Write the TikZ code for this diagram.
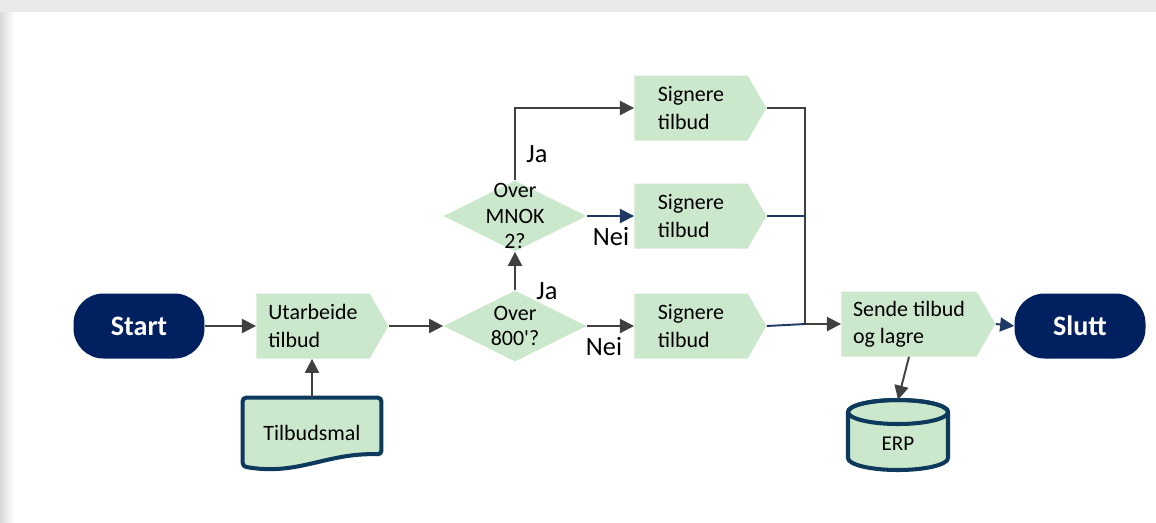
\documentclass[tikz,border=0pt]{standalone}
\usepackage{fontspec}
\setmainfont{Carlito}
\usetikzlibrary{shapes.geometric, shapes.symbols}
\usetikzlibrary{arrows.meta, calc}

\definecolor{navy}{HTML}{002060}
\definecolor{stepgreen}{HTML}{CCE8CC}
\definecolor{edgeblue}{HTML}{0D3A5C}
\definecolor{linegray}{HTML}{404040}
\definecolor{lineblue}{HTML}{1F3864}

\begin{document}
\begin{tikzpicture} [
       x=0.02cm, y=-0.02cm,
       terminal/.style={rectangle, rounded corners=0.6cm, fill=navy, text=white,
               font=\bfseries\fontsize{16}{18}\selectfont,
               minimum width=2.62cm, minimum height=1.3cm},
       task/.style={signal, signal to=east, signal from=nowhere,
               signal pointer angle=120, fill=stepgreen, align=left,
               minimum width=2.64cm, minimum height=1.3cm,
               font=\fontsize{12.5}{15.5}\selectfont},
       decision/.style={diamond, fill=stepgreen, aspect=2, inner sep=0pt,
               minimum width=2.86cm, minimum height=1.42cm},
       texte/.style={align=center, font=\fontsize{12.5}{14.5}\selectfont},
       answer/.style={font=\fontsize{15}{17}\selectfont},
       line/.style={draw, linegray, line width=1.1pt,
               -{Triangle[length=8pt,width=8pt]}},
       ]
       % frame
       \useasboundingbox (0,0) rectangle (1156,522);
       \fill[white] (0,0) rectangle (1156,522);
       \fill[gray!17] (0,0) rectangle (1156,12);
       \shade[left color=gray!30, right color=white] (0,12) rectangle (14,522);

       \node (start) [terminal] at (139,326) {Start};
       \node (ut) [task] at (313,326) {Utarbeide\\tilbud};
       \node (tmpl) [minimum width=2.76cm, minimum height=1.4cm,
               font=\fontsize{12.5}{15}\selectfont] at (312,433) {};
       \draw[edgeblue, fill=stepgreen, line width=2.3pt, rounded corners=2pt]
               (tmpl.north west) -- (tmpl.north east) -- ($(tmpl.south east)+(0,-14)$)
               .. controls ($(tmpl.south east)+(-55,-16)$) and ($(tmpl.south west)+(55,8)$)
               .. ($(tmpl.south west)+(0,-2)$) -- cycle;
       \node (tmpltxt) [font=\fontsize{12.5}{15}\selectfont] at (tmpl) {Tilbudsmal};

       \node (d1) [decision] at (515,326) {};
       \node (d1txt) [texte] at (d1) {Over\\800\textquotesingle?};
       \node (d2) [decision] at (515,216) {};
       \node (d2txt) [texte] at (d2) {Over\\MNOK\\2?};

       \node (sig1) [task] at (691,108) {Signere\\tilbud};
       \node (sig2) [task] at (691,216) {Signere\\tilbud};
       \node (sig3) [task] at (691,326) {Signere\\tilbud};

       \node (send) [task, minimum width=3.08cm] at (909,324) {Sende tilbud\\og lagre};
       \node (slutt) [terminal] at (1080,326) {Slutt};

       % database
       \draw[edgeblue, fill=stepgreen, line width=2.3pt]
               (848,412) -- (848,458) arc[start angle=180, end angle=0, x radius=50, y radius=12]
               -- (948,412) arc[start angle=0, end angle=-180, x radius=50, y radius=12];
       \draw[edgeblue, line width=2.3pt] (898,412) ellipse[x radius=50, y radius=12];
       \node (erp) [minimum width=2cm, minimum height=1.4cm] at (898,435) {};
       \node (erptxt) [font=\fontsize{12}{14}\selectfont] at (898,444) {ERP};

       \coordinate (join) at (805,324);

       \node (ja1) [answer] at (537,154) {Ja};
       \node (ja2) [answer] at (547,291) {Ja};
       \node (nei1) [answer] at (611,237) {Nei};
       \node (nei2) [answer] at (604,347) {Nei};

        \begin{scope}[every path/.style=line]
        \path (start) -- (ut);
        \path (tmpl.north) -- (tmpl.north |- ut.south);
        \path (ut.east) -- (d1.west);
        \path (d1.north) -- (d2.south);
        \path (d2.north) |- (sig1.west);
        \path[lineblue] (d2.east) -- (sig2.west);
        \path (d1.east) -- (sig3.west);
        \path (join) -- (send.west);
        \path (send.south) -- (erp.north);
        \path[lineblue] (send.east) -- (slutt.west);
        \end{scope}
        \draw[linegray, line width=1.1pt] (sig1.east) -| (join);
        \draw[lineblue, line width=1.1pt] (sig2.east) -- (sig2.east -| join);
        \draw[lineblue, line width=1.1pt] (sig3.east) -- (join);
\end{tikzpicture}
\end{document}
